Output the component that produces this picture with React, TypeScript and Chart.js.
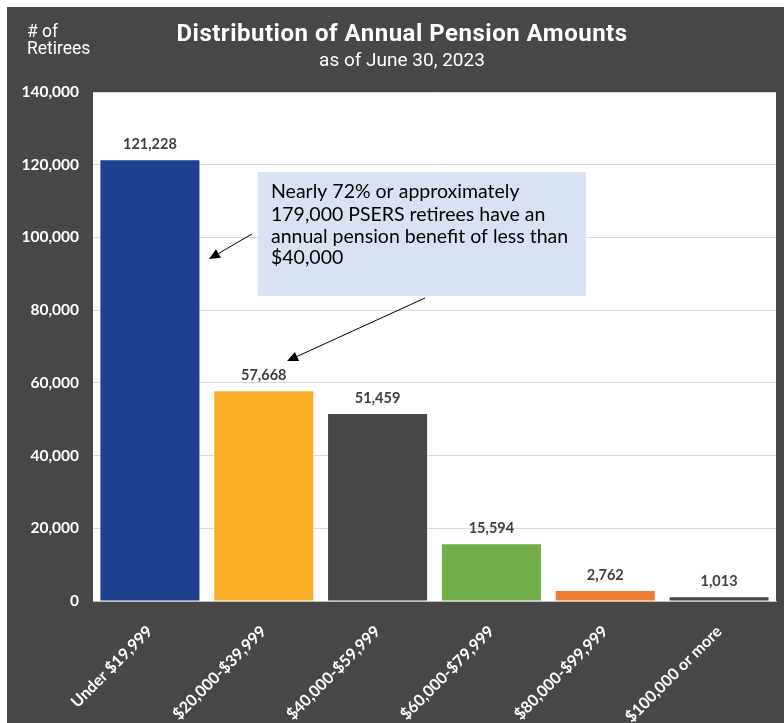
import { useEffect, useRef } from "react";
import { Chart, registerables } from "chart.js";

Chart.register(...registerables);

const categories = [
  "Under $19,999",
  "$20,000-$39,999",
  "$40,000-$59,999",
  "$60,000-$79,999",
  "$80,000-$99,999",
  "$100,000 or more",
];
const retirees = [121228, 57668, 51459, 15594, 2762, 1013];
const barColors = ["#1F3F8F", "#FBAE28", "#474747", "#70AD47", "#ED7D31", "#474747"];
const yMin = 0;
const yMax = 140000;
const yStep = 20000;

const titleText = "Distribution of Annual Pension Amounts";
const subtitleText = "as of June 30, 2023";
const yAxisLabelLines = ["# of", "Retirees"];
const calloutLines = [
  "Nearly 72% or approximately",
  "179,000 PSERS retirees have an",
  "annual pension benefit of less than",
  "$40,000",
];

const fmt = (v: number) => v.toLocaleString("en-US");

function drawArrow(ctx: CanvasRenderingContext2D, x1: number, y1: number, x2: number, y2: number) {
  const ang = Math.atan2(y2 - y1, x2 - x1);
  const head = 11;
  const half = 5;
  const bx = x2 - head * Math.cos(ang);
  const by = y2 - head * Math.sin(ang);
  ctx.save();
  ctx.strokeStyle = "#000";
  ctx.fillStyle = "#000";
  ctx.lineWidth = 1;
  ctx.beginPath();
  ctx.moveTo(x1, y1);
  ctx.lineTo(bx, by);
  ctx.stroke();
  ctx.beginPath();
  ctx.moveTo(x2, y2);
  ctx.lineTo(bx + half * Math.sin(ang), by - half * Math.cos(ang));
  ctx.lineTo(bx - half * Math.sin(ang), by + half * Math.cos(ang));
  ctx.closePath();
  ctx.fill();
  ctx.restore();
}

const plotBg = {
  id: "plotBg",
  beforeDraw(chart: any) {
    const { ctx, chartArea } = chart;
    ctx.save();
    ctx.fillStyle = "#FFFFFF";
    ctx.fillRect(chartArea.left, chartArea.top, chartArea.right - chartArea.left, chartArea.bottom - chartArea.top);
    ctx.restore();
  },
};

const valueLabels = {
  id: "valueLabels",
  afterDatasetsDraw(chart: any) {
    const { ctx } = chart;
    const meta = chart.getDatasetMeta(0);
    ctx.save();
    ctx.fillStyle = "#404040";
    ctx.font = "bold 14.5px Lato, 'Open Sans', sans-serif";
    ctx.textAlign = "center";
    ctx.textBaseline = "middle";
    meta.data.forEach((bar: any, i: number) => {
      ctx.fillText(fmt(retirees[i]), bar.x, bar.y - 16);
    });
    ctx.restore();
  },
};

const headings = {
  id: "headings",
  afterDraw(chart: any) {
    const { ctx } = chart;
    ctx.save();
    ctx.fillStyle = "#FFFFFF";
    ctx.textAlign = "center";
    ctx.textBaseline = "middle";
    ctx.font = "bold 24px Roboto, sans-serif";
    (ctx as any).letterSpacing = "0.5px";
    ctx.fillText(titleText, 395, 28);
    (ctx as any).letterSpacing = "0px";
    ctx.font = "19px Roboto, sans-serif";
    ctx.fillText(subtitleText, 395, 54);
    ctx.textAlign = "left";
    ctx.font = "17.5px Roboto, sans-serif";
    ctx.fillText(yAxisLabelLines[0], 20, 26);
    ctx.fillText(yAxisLabelLines[1], 20, 43);
    ctx.restore();
  },
};

const callout = {
  id: "callout",
  afterDraw(chart: any) {
    const { ctx } = chart;
    ctx.save();
    ctx.fillStyle = "#D9E2F3";
    ctx.fillRect(251, 165, 328, 124);
    ctx.fillStyle = "#000000";
    ctx.font = "19.5px Lato, sans-serif";
    ctx.textAlign = "left";
    ctx.textBaseline = "middle";
    const ys = [185, 208, 230, 251];
    calloutLines.forEach((l, i) => ctx.fillText(l, 264, ys[i]));
    ctx.restore();
    drawArrow(ctx, 245, 227, 202, 252);
    drawArrow(ctx, 418, 291, 280, 354);
  },
};

export default function App() {
  const canvasRef = useRef<HTMLCanvasElement | null>(null);

  useEffect(() => {
    if (!canvasRef.current) return;
    const chart = new Chart(canvasRef.current, {
      type: "bar",
      data: {
        labels: categories,
        datasets: [
          {
            data: retirees,
            backgroundColor: barColors,
            borderWidth: 0,
            barPercentage: 0.87,
            categoryPercentage: 1,
          },
        ],
      },
      options: {
        animation: false,
        responsive: true,
        maintainAspectRatio: false,
        layout: { padding: { top: 85, right: 8, left: 0, bottom: 0 } },
        plugins: {
          legend: { display: false },
          title: { display: false },
          tooltip: { enabled: false },
        },
        scales: {
          x: {
            grid: { display: false },
            border: { display: true, color: "#BFBFBF", width: 1 },
            ticks: {
              color: "#FFFFFF",
              font: { family: "Lato, 'Open Sans', sans-serif", size: 16, weight: "bold" },
              maxRotation: 45,
              minRotation: 45,
              padding: 13,
              autoSkip: false,
            },
            afterFit(scale: any) {
              scale.height = 122;
            },
          },
          y: {
            min: yMin,
            max: yMax,
            border: { display: false },
            grid: { color: "#D9D9D9", drawTicks: false, lineWidth: 1 },
            ticks: {
              stepSize: yStep,
              color: "#FFFFFF",
              font: { family: "Lato, 'Open Sans', sans-serif", size: 15.5, weight: "bold" },
              padding: 14,
              callback: (v: any) => fmt(Number(v)),
            },
            afterFit(scale: any) {
              scale.width = 86;
            },
          },
        },
      },
      plugins: [plotBg, valueLabels, headings, callout],
    });
    return () => chart.destroy();
  }, []);

  return (
    <div
      style={{
        position: "fixed",
        left: 7,
        top: 7,
        width: 777,
        height: 716,
        background: "#474747",
      }}
    >
      <canvas ref={canvasRef} />
    </div>
  );
}
